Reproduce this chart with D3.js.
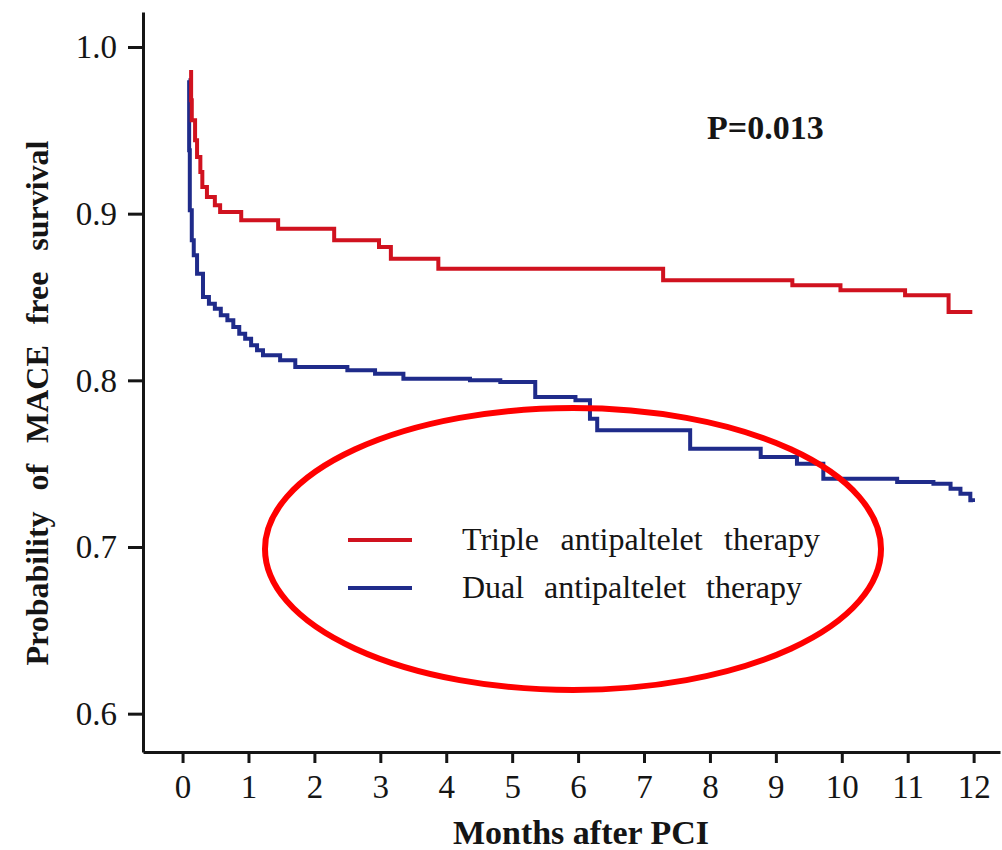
<!DOCTYPE html>
<html>
<head>
<meta charset="utf-8">
<script src="https://cdn.jsdelivr.net/npm/d3@7"></script>
<style>
  body { margin: 0; background: #fff; }
  text { font-family: "Liberation Serif", "Times New Roman", serif; fill: #151515; }
</style>
</head>
<body>
<svg width="1002" height="850"></svg>
<script>
// values
let seriesNames = ['Triple antipaltelet therapy', 'Dual antipaltelet therapy'];
let seriesColors = ['#d0121f', '#1f2b8a'];

let tripleMonths = [0.10, 0.13, 0.14, 0.19, 0.22, 0.27, 0.30, 0.37, 0.49, 0.57, 0.89, 1.45, 2.30, 2.98, 3.16, 3.88, 7.29, 9.25, 9.98, 10.96, 11.62, 11.98];
let tripleSurv = [0.985, 0.968, 0.956, 0.944, 0.934, 0.925, 0.916, 0.910, 0.905, 0.901, 0.896, 0.891, 0.884, 0.880, 0.873, 0.867, 0.860, 0.857, 0.854, 0.851, 0.841, 0.841];

let dualMonths = [0.09, 0.10, 0.11, 0.14, 0.17, 0.22, 0.31, 0.40, 0.49, 0.58, 0.68, 0.77, 0.86, 0.95, 1.04, 1.13, 1.22, 1.48, 1.71, 2.50, 2.92, 3.35, 4.36, 4.82, 5.35, 5.96, 6.18, 6.29, 7.70, 8.77, 9.32, 9.72, 10.84, 11.39, 11.65, 11.80, 11.95, 11.99];
let dualSurv = [0.980, 0.938, 0.902, 0.884, 0.875, 0.864, 0.850, 0.846, 0.843, 0.839, 0.836, 0.832, 0.828, 0.825, 0.821, 0.818, 0.815, 0.812, 0.808, 0.806, 0.804, 0.801, 0.800, 0.799, 0.790, 0.788, 0.777, 0.770, 0.759, 0.754, 0.750, 0.741, 0.739, 0.738, 0.735, 0.732, 0.728, 0.727];

let xTicks = [0, 1, 2, 3, 4, 5, 6, 7, 8, 9, 10, 11, 12];
let yTicks = [0.6, 0.7, 0.8, 0.9, 1.0];
let pValueText = 'P=0.013';

let svg = d3.select('svg');

let x = d3.scaleLinear().domain([-0.6, 12.4]).range([143, 1000]);
let y = d3.scaleLinear().domain([0.577, 1.021]).range([752, 12]);

// axes
let xAxis = svg.append('g')
  .attr('transform', 'translate(0,752)')
  .call(d3.axisBottom(x).tickValues(xTicks).tickSize(11).tickSizeOuter(0).tickPadding(11));

let yAxis = svg.append('g')
  .attr('transform', 'translate(143,0)')
  .call(d3.axisLeft(y).tickValues(yTicks).tickFormat(d3.format('.1f')).tickSize(15).tickSizeOuter(0).tickPadding(11));

[xAxis, yAxis].forEach(function(g) {
  g.select('.domain').attr('stroke', '#151515').attr('stroke-width', 3);
  g.selectAll('.tick line').attr('stroke', '#151515').attr('stroke-width', 3);
  g.selectAll('.tick text')
    .style('font-family', '"Liberation Serif", serif')
    .style('font-size', '33px')
    .attr('fill', '#151515');
});
xAxis.selectAll('.tick text').attr('dy', '0.72em');
yAxis.selectAll('.tick text').attr('dy', '0.33em');

// survival curves
let series = [
  { name: seriesNames[0], color: seriesColors[0], months: tripleMonths, surv: tripleSurv },
  { name: seriesNames[1], color: seriesColors[1], months: dualMonths, surv: dualSurv }
];

let line = d3.line()
  .x(function(d) { return x(d[0]); })
  .y(function(d) { return y(d[1]); })
  .curve(d3.curveStepAfter);

svg.append('g')
  .selectAll('path')
  .data(series.slice().reverse())
  .join('path')
  .attr('d', function(d) { return line(d3.zip(d.months, d.surv)); })
  .attr('fill', 'none')
  .attr('stroke', function(d) { return d.color; })
  .attr('stroke-width', 4);

// p value
svg.append('text')
  .attr('x', 707)
  .attr('y', 139)
  .style('font-size', '34px')
  .style('font-weight', 'bold')
  .text(pValueText);

// legend
let legend = svg.append('g')
  .selectAll('g')
  .data(series)
  .join('g')
  .attr('transform', function(d, i) { return 'translate(348,' + (540 + i * 48) + ')'; });

legend.append('line')
  .attr('x1', 0).attr('x2', 64)
  .attr('stroke', function(d) { return d.color; })
  .attr('stroke-width', 4);

legend.append('text')
  .attr('x', 114)
  .attr('dy', '0.3em')
  .style('font-size', '32px')
  .text(function(d) { return d.name; });

function fitWords(sel, target) {
  sel.each(function() {
    let n = this.textContent.split(' ').length - 1;
    let w = this.getComputedTextLength();
    if (n > 0 && w < target) d3.select(this).style('word-spacing', ((target - w) / n) + 'px');
  });
}
fitWords(legend.filter(function(d, i) { return i === 0; }).select('text'), 358);
fitWords(legend.filter(function(d, i) { return i === 1; }).select('text'), 340);

// annotation ellipse
svg.append('ellipse')
  .attr('cx', 573).attr('cy', 549)
  .attr('rx', 308).attr('ry', 141)
  .attr('fill', 'none')
  .attr('stroke', '#ff0000')
  .attr('stroke-width', 6);

// axis titles
svg.append('text')
  .attr('x', 581)
  .attr('y', 844)
  .attr('text-anchor', 'middle')
  .style('font-size', '34px')
  .style('font-weight', 'bold')
  .text('Months after PCI');

let yTitle = svg.append('text')
  .attr('transform', 'translate(48,403) rotate(-90)')
  .attr('text-anchor', 'middle')
  .style('font-size', '32px')
  .style('font-weight', 'bold')
  .text('Probability of MACE free survival');
fitWords(yTitle, 525);
</script>
</body>
</html>
